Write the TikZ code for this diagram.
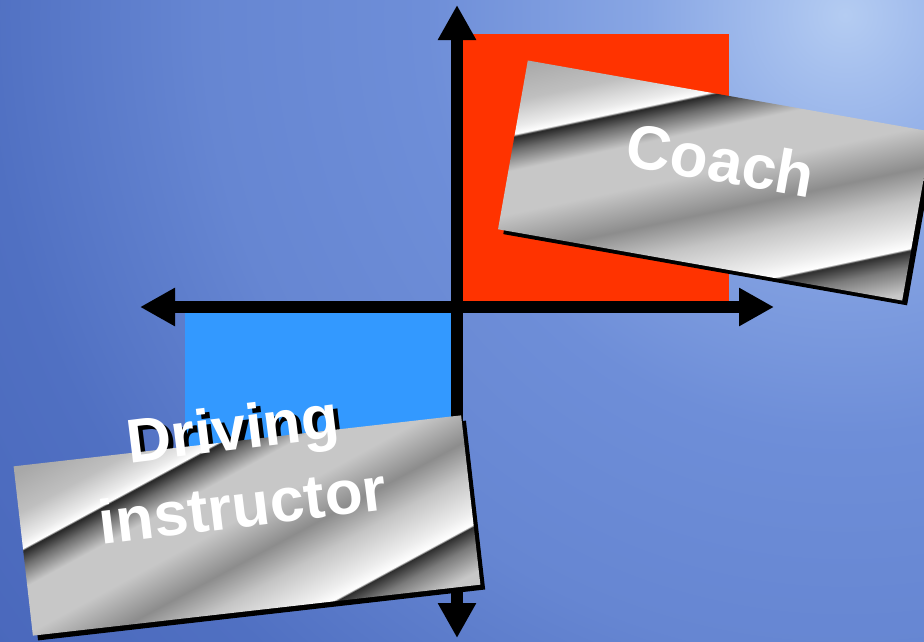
\documentclass[tikz,border=0pt]{standalone}
\usepackage{fontspec}
\setmainfont{Liberation Sans}
\usetikzlibrary{arrows.meta}

\definecolor{glowa}{HTML}{B4CCF2}
\definecolor{glowb}{HTML}{A6C0EE}
\definecolor{glowc}{HTML}{88A6E4}
\definecolor{glowd}{HTML}{6E8ED8}
\definecolor{glowe}{HTML}{6686D2}
\definecolor{glowf}{HTML}{5070C2}
\definecolor{glowg}{HTML}{4A68BC}
\definecolor{redq}{HTML}{FF3300}
\definecolor{blueq}{HTML}{3399FF}

\pgfdeclareradialshading{bgglow}{\pgfpoint{0pt}{0pt}}{%
  color(0pt)=(glowa); color(60pt)=(glowb); color(200pt)=(glowc);
  color(420pt)=(glowd); color(640pt)=(glowe); color(860pt)=(glowf);
  color(1060pt)=(glowg)}

\pgfdeclareverticalshading{metal}{540pt}{%
  color(0pt)=(black!22); color(120pt)=(black!22); color(145pt)=(black!52);
  color(161pt)=(black!82); color(163pt)=(white); color(175pt)=(black!7);
  color(210pt)=(black!23); color(240pt)=(black!45); color(280pt)=(black!22);
  color(322pt)=(black!22); color(342pt)=(black!57); color(355pt)=(black!85);
  color(357pt)=(white); color(365pt)=(black!8); color(390pt)=(black!25);
  color(426pt)=(black!34); color(540pt)=(black!34)}

\tikzset{
  quad/.style={inner sep=0pt, outer sep=0pt, anchor=north west},
  axis/.style={line width=12pt, {Triangle[length=35pt,width=36pt]}-{Triangle[length=35pt,width=36pt]}},
  boxshadow/.style={fill=black, inner sep=0pt},
  plate/.style={inner sep=0pt},
  lbl/.style={font=\fontsize{62}{62}\selectfont\bfseries, text=white, inner sep=0pt, anchor=base},
}

\begin{document}
\begin{tikzpicture}[x=1pt,y=-1pt]
\useasboundingbox (0,0) rectangle (924,641);
\clip (0,0) rectangle (924,641);
% background
\node[inner sep=0pt] (bg) at (845,15) {\pgfuseshading{bgglow}};

% quadrants
\node[quad, fill=redq, minimum width=272pt, minimum height=268pt] (redbox) at (457,34) {};
\node[quad, fill=blueq, minimum width=272pt, minimum height=173pt] (bluebox) at (185,307) {};

% axes
\coordinate (ytop) at (457,5);
\coordinate (ybot) at (457,638);
\coordinate (xleft) at (140,307);
\coordinate (xright) at (774,307);
\draw[axis] (ybot) -- (ytop);
\draw[axis] (xleft) -- (xright);

% shadow of "Driving" text (hidden where the plate covers it)
\node[lbl, text=black, rotate=7] (drvshadow) at (240,454) {Driving};

% Coach plate
\node[boxshadow, rotate=-10, minimum width=410pt, minimum height=171pt] (coachshadow) at (720,185.5) {};
\node[plate, rotate=-10, minimum width=410pt, minimum height=171pt] (coachplate) at (715,180.5) {};
\begin{scope}
  \clip (coachplate.north west) -- (coachplate.north east) -- (coachplate.south east) -- (coachplate.south west) -- cycle;
  \node[inner sep=0pt, rotate=12] (coachmetal) at (coachplate.center) {\pgfuseshading{metal}};
\end{scope}

% Driving instructor plate
\node[boxshadow, rotate=6.5, minimum width=450pt, minimum height=170pt] (drvshadowbox) at (252,530.5) {};
\node[plate, rotate=6.5, minimum width=450pt, minimum height=170pt] (drvplate) at (247,525.5) {};
\begin{scope}
  \clip (drvplate.north west) -- (drvplate.north east) -- (drvplate.south east) -- (drvplate.south west) -- cycle;
  \node[inner sep=0pt, rotate=28.5] (drvmetal) at (drvplate.center) {\pgfuseshading{metal}};
\end{scope}

% labels
\node[lbl, rotate=-10] (coach) at (717,182) {Coach};
\node[lbl, rotate=7] (drv) at (235,450) {Driving};
\node[lbl, rotate=7] (inst) at (245,527) {instructor};
\end{tikzpicture}
\end{document}
